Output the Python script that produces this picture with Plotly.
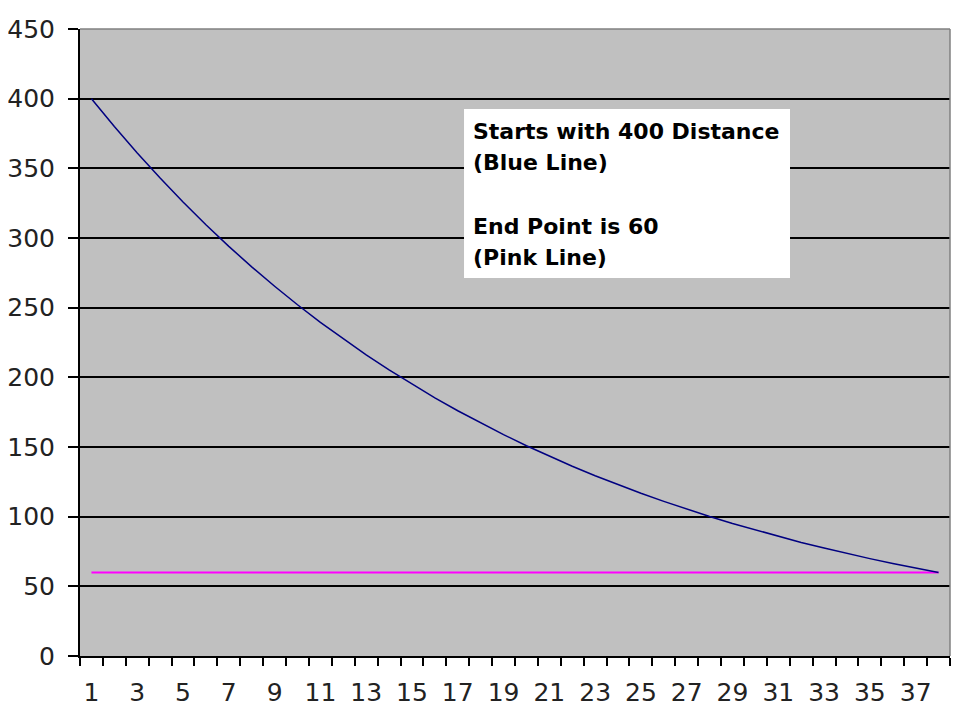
import plotly.graph_objects as go

days = [1, 2, 3, 4, 5, 6, 7, 8, 9, 10, 11, 12, 13, 14, 15, 16, 17, 18, 19,
        20, 21, 22, 23, 24, 25, 26, 27, 28, 29, 30, 31, 32, 33, 34, 35, 36, 37, 38]

distance = [400, 380, 361, 343, 325.8, 309.5, 294, 279.3, 265.4, 252.1,
            239.5, 227.5, 216.1, 205.3, 195.1, 185.3, 176, 167.2, 158.9, 150.9,
            143.4, 136.2, 129.4, 122.9, 116.8, 111, 105.4, 100.1, 95.1, 90.4,
            85.8, 81.5, 77.5, 73.6, 69.9, 66.4, 63.1, 60]

end_point = [60, 60, 60, 60, 60, 60, 60, 60, 60, 60,
             60, 60, 60, 60, 60, 60, 60, 60, 60, 60,
             60, 60, 60, 60, 60, 60, 60, 60, 60, 60,
             60, 60, 60, 60, 60, 60, 60, 60]

note_lines = ["Starts with 400 Distance", "(Blue Line)", "",
              "End Point is 60", "(Pink Line)"]

fig = go.Figure()
fig.add_trace(go.Scatter(x=days, y=end_point, mode="lines",
                         line=dict(color="#ff00ff", width=2)))
fig.add_trace(go.Scatter(x=days, y=distance, mode="lines",
                         line=dict(color="#000080", width=1.5)))

# white note box
fig.add_shape(type="rect", xref="paper", yref="paper",
              x0=0.4414, x1=0.8161, y0=0.603, y1=0.8724,
              fillcolor="white", line=dict(width=0), layer="above")
# one annotation per line to get Excel's looser line spacing
for i, line in enumerate(note_lines):
    if not line:
        continue
    fig.add_annotation(text=line, xref="paper", yref="paper",
                       x=0.4494, y=0.8373 - i * 0.0505,
                       xanchor="left", yanchor="middle", showarrow=False,
                       font=dict(family="DejaVu Sans", size=22, color="black",
                                 weight="bold"))

# gray border on top and right of plot area
fig.add_shape(type="line", xref="paper", yref="paper", x0=0, x1=1, y0=1, y1=1,
              line=dict(color="#808080", width=1.5), layer="above")
fig.add_shape(type="line", xref="paper", yref="paper", x0=1, x1=1, y0=0, y1=1,
              line=dict(color="#808080", width=1.5), layer="above")

# page body adds 8px offset, margins compensate
fig.update_layout(
    width=960, height=720,
    margin=dict(l=72, r=18, t=21, b=72),
    paper_bgcolor="white", plot_bgcolor="#c0c0c0",
    showlegend=False,
    font=dict(family="DejaVu Sans", size=25, color="#222222"),
)
fig.update_xaxes(range=[0.5, 38.5], tick0=1, dtick=2, ticks="", showgrid=False,
                 zeroline=False, showline=True, linecolor="black", linewidth=2,
                 ticklabelstandoff=13, automargin=False,
                 minor=dict(tick0=0.5, dtick=1, ticks="outside", ticklen=8,
                            tickcolor="black", tickwidth=2, showgrid=False))
fig.update_yaxes(range=[0, 450], dtick=50, ticks="outside", ticklen=10,
                 tickcolor="black", tickwidth=2, showgrid=True, gridcolor="black",
                 gridwidth=2, zeroline=False, showline=True, linecolor="black",
                 linewidth=2, ticklabelstandoff=8, automargin=False)

fig.write_html("out.html")
